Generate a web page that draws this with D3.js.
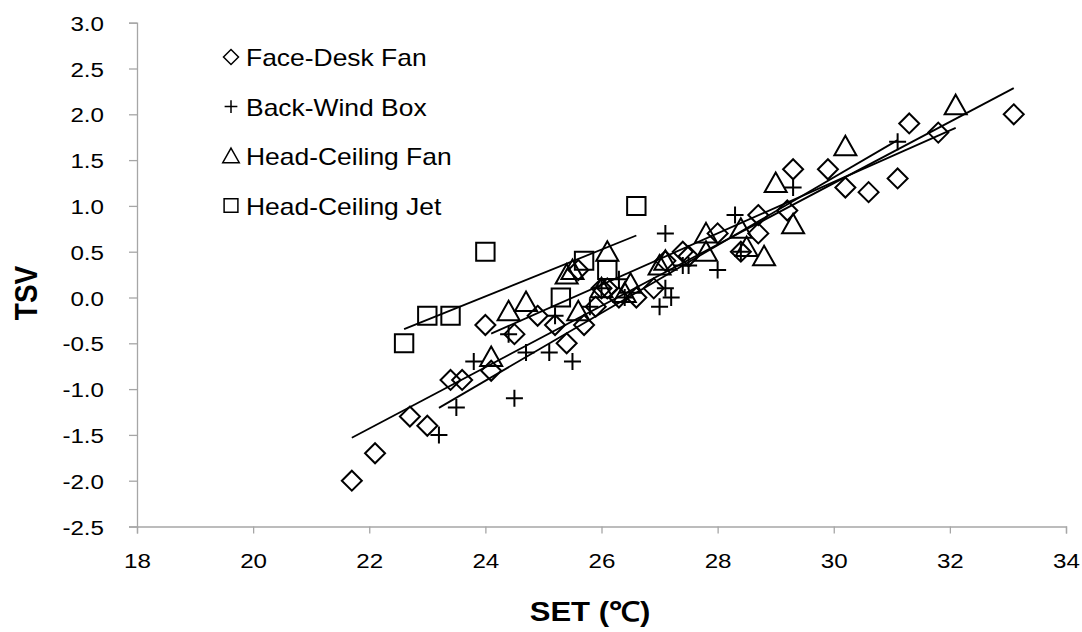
<!DOCTYPE html>
<html>
<head>
<meta charset="utf-8">
<script src="https://cdn.jsdelivr.net/npm/d3@7"></script>
<style>
  body { margin: 0; background: #fff; }
  text { font-family: "Liberation Sans", Arial, sans-serif; fill: #000; }
</style>
</head>
<body>
<div id="chart"></div>
<script>
// SET (x) and TSV (y) per group
const faceDesk = [
  [21.7, -2.0], [22.1, -1.7], [22.7, -1.3], [23.0, -1.4], [23.4, -0.9], [23.6, -0.9],
  [24.0, -0.3], [24.1, -0.8], [24.5, -0.4], [24.9, -0.2], [25.2, -0.3], [25.4, -0.5],
  [25.7, -0.3], [25.6, 0.3], [25.9, -0.1], [26.0, 0.1], [26.1, 0.1], [26.3, 0.0],
  [26.6, 0.0], [26.9, 0.1], [27.1, 0.4], [27.4, 0.5], [27.5, 0.45], [28.0, 0.7],
  [28.4, 0.5], [28.7, 0.7], [28.7, 0.9], [29.2, 0.95], [29.3, 1.4], [29.9, 1.4],
  [30.2, 1.2], [30.6, 1.15], [31.1, 1.3], [31.3, 1.9], [31.8, 1.8], [33.1, 2.0]
];
const backWind = [
  [23.2, -1.5], [23.5, -1.2], [23.8, -0.7], [24.4, -0.4], [24.5, -1.1], [24.7, -0.6],
  [25.1, -0.6], [25.2, -0.2], [25.5, -0.7], [25.8, -0.1], [26.0, 0.1], [26.3, 0.2],
  [26.4, 0.0], [27.0, -0.1], [27.1, 0.7], [27.1, 0.1], [27.2, 0.0], [27.4, 0.35],
  [27.5, 0.35], [28.0, 0.3], [28.3, 0.9], [28.4, 0.5], [29.3, 1.2], [31.1, 1.7]
];
const headFan = [
  [24.1, -0.65], [24.4, -0.15], [24.7, -0.05], [25.4, 0.25], [25.5, 0.3], [25.6, -0.15],
  [26.0, 0.1], [26.1, 0.5], [26.4, 0.05], [26.5, 0.15], [27.0, 0.35], [27.1, 0.4],
  [27.8, 0.7], [27.8, 0.5], [28.4, 0.75], [28.5, 0.55], [28.8, 0.45], [29.0, 1.25],
  [29.3, 0.8], [30.2, 1.65], [32.1, 2.1]
];
const headJet = [
  [22.6, -0.5], [23.0, -0.2], [23.4, -0.2], [24.0, 0.5], [25.3, 0.0], [25.7, 0.4],
  [26.1, 0.3], [26.6, 1.0]
];
const seriesNames = ["Face-Desk Fan", "Back-Wind Box", "Head-Ceiling Fan", "Head-Ceiling Jet"];
const seriesSymbols = ["diamond", "cross", "triangle", "square"];
const xTicks = [18, 20, 22, 24, 26, 28, 30, 32, 34];
const yTicks = [-2.5, -2.0, -1.5, -1.0, -0.5, 0.0, 0.5, 1.0, 1.5, 2.0, 2.5, 3.0];

const allSeries = [faceDesk, backWind, headFan, headJet];

const width = 1082, height = 632;
const stretch = 1.15; // text in the picture is a bit wider than normal

const svg = d3.select("#chart").append("svg")
  .attr("width", width)
  .attr("height", height);

const x = d3.scaleLinear().domain([18, 34]).range([137, 1066]);
const y = d3.scaleLinear().domain([-2.5, 3.0]).range([526.5, 22.7]);

const axisCol = "#a6a6a6";

// axes
const gx = svg.append("g")
  .attr("transform", `translate(0,${y(-2.5)})`)
  .call(d3.axisBottom(x).tickValues(xTicks).tickSize(7).tickFormat(d3.format("d")));
const gy = svg.append("g")
  .attr("transform", `translate(${x(18)},0)`)
  .call(d3.axisLeft(y).tickValues(yTicks).tickSize(8).tickFormat(d => d.toFixed(1)));

[gx, gy].forEach(g => {
  g.select(".domain").attr("stroke", axisCol).attr("stroke-width", 1.3);
  g.selectAll(".tick line").attr("stroke", axisCol).attr("stroke-width", 1.3);
  g.selectAll(".tick text")
    .attr("fill", "#000")
    .style("font-size", "21px")
    .style("font-family", "'Liberation Sans', Arial, sans-serif");
});
gx.selectAll(".tick text")
  .attr("y", 0).attr("dy", 0)
  .attr("transform", `translate(0,41) scale(${stretch},1)`);
gy.selectAll(".tick text")
  .attr("x", 0).attr("dy", "0.36em")
  .attr("transform", `translate(-33,0) scale(${stretch},1)`);

// axis titles
svg.append("text")
  .attr("transform", `translate(590,621) scale(${stretch},1)`)
  .attr("text-anchor", "middle")
  .style("font-size", "27px")
  .style("font-weight", "bold")
  .text("SET (℃)");

svg.append("text")
  .attr("transform", `translate(37,${y(0.05)}) scale(${stretch},1) rotate(-90)`)
  .attr("text-anchor", "middle")
  .style("font-size", "28px")
  .style("font-weight", "bold")
  .text("TSV");

// symbol paths
function symbolPath(type, s) {
  if (type === "diamond") return `M0,${-s}L${s},0L0,${s}L${-s},0Z`;
  if (type === "cross") return `M${-s * 0.85},0H${s * 0.85}M0,${-s * 0.85}V${s * 0.85}`;
  if (type === "triangle") return `M0,${-s * 1.05}L${s * 1.1},${s * 0.9}L${-s * 1.1},${s * 0.9}Z`;
  return `M${-s * 0.92},${-s * 0.9}H${s * 0.92}V${s * 0.9}H${-s * 0.92}Z`;
}

// trend lines (least squares per series)
allSeries.forEach(data => {
  const mx = d3.mean(data, d => d[0]);
  const my = d3.mean(data, d => d[1]);
  const sxy = d3.sum(data, d => (d[0] - mx) * (d[1] - my));
  const sxx = d3.sum(data, d => (d[0] - mx) * (d[0] - mx));
  const b = sxy / sxx, a = my - b * mx;
  const [x0, x1] = d3.extent(data, d => d[0]);
  svg.append("line")
    .attr("x1", x(x0)).attr("y1", y(a + b * x0))
    .attr("x2", x(x1)).attr("y2", y(a + b * x1))
    .attr("stroke", "#000")
    .attr("stroke-width", 1.8);
});

// points
allSeries.forEach((data, i) => {
  svg.append("g").selectAll("path")
    .data(data)
    .enter()
    .append("path")
    .attr("transform", d => `translate(${x(d[0])},${y(d[1])})`)
    .attr("d", symbolPath(seriesSymbols[i], 10))
    .attr("fill", "none")
    .attr("stroke", "#000")
    .attr("stroke-width", 2);
});

// legend
const legend = svg.append("g");
seriesNames.forEach((name, i) => {
  const ly = 57 + i * 49.5;
  legend.append("path")
    .attr("transform", `translate(231,${ly})`)
    .attr("d", symbolPath(seriesSymbols[i], 7.5))
    .attr("fill", "none")
    .attr("stroke", "#000")
    .attr("stroke-width", 1.5);
  legend.append("text")
    .attr("transform", `translate(246,${ly + 9}) scale(${stretch},1)`)
    .style("font-size", "23px")
    .text(name);
});
</script>
</body>
</html>
